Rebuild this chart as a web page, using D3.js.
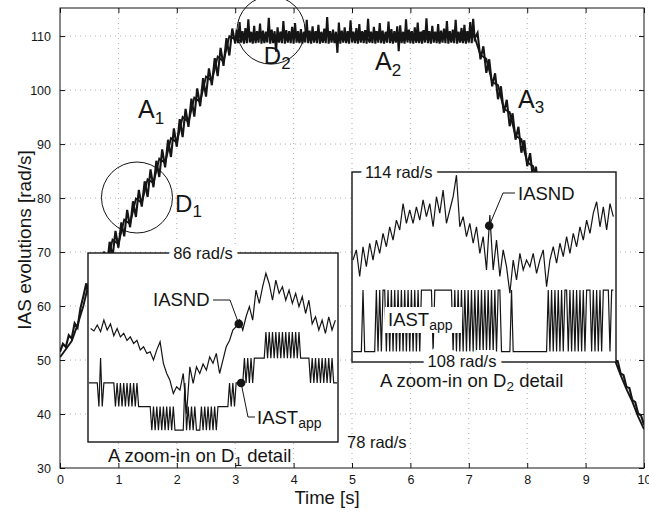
<!DOCTYPE html>
<html>
<head>
<meta charset="utf-8">
<script src="https://cdn.jsdelivr.net/npm/d3@7"></script>
<style>
  body { margin: 0; background: #fff; }
  svg { display: block; font-family: "Liberation Sans", Arial, sans-serif; }
</style>
</head>
<body>
<svg id="chart" width="649" height="513"></svg>
<script>
// ---- data ----
var xTicks = [0, 1, 2, 3, 4, 5, 6, 7, 8, 9, 10];
var yTicks = [30, 40, 50, 60, 70, 80, 90, 100, 110];

// main IASND trace: start + ramp up every 0.05 s (0..3 s)
var iasStart = [51.5, 53.0, 52.4, 54.6, 54.0, 56.8, 56.0, 59.6, 61.8];
var iasRampUp = [64.2, 61.6, 66.3, 63.5, 68.0, 65.2, 70.1, 67.0, 71.9, 69.1, 73.9, 70.8, 75.5, 72.9, 77.8, 74.6,
  79.4, 76.5, 81.5, 78.4, 83.1, 80.2, 85.3, 82.0, 86.9, 83.9, 89.0, 85.7, 90.8, 87.6, 92.9, 89.5, 94.6, 91.3,
  96.5, 93.2, 98.4, 95.1, 100.3, 97.0, 102.2, 98.8, 104.0, 100.9, 105.9, 102.6, 107.8, 104.5, 109.6, 106.4,
  111.4, 108.6];
// plateau every 0.025 s (3.025..7.1 s)
var iasPlateau = [
  111.2, 108.7, 112.6, 108.8, 110.9, 108.6, 111.5, 108.7, 113.1, 108.8, 110.8, 108.6, 111.9, 108.7, 110.9, 108.8, 112.3, 108.6, 111.0, 108.7,
  110.8, 108.8, 113.4, 108.6, 111.2, 108.7, 110.9, 107.1, 111.6, 108.8, 110.8, 108.7, 112.8, 108.6, 111.1, 108.8, 110.9, 108.7, 111.7, 108.6,
  112.4, 108.8, 110.9, 108.7, 111.3, 108.6, 110.8, 108.8, 113.0, 108.7, 111.0, 108.6, 111.8, 108.8, 110.9, 108.7, 112.1, 108.6, 110.8, 108.8,
  111.4, 108.7, 113.5, 108.6, 110.9, 108.8, 111.2, 108.7, 110.8, 106.9, 112.5, 108.6, 111.0, 108.8, 111.6, 108.7, 110.9, 108.6, 112.9, 108.8,
  110.8, 108.7, 111.5, 108.6, 112.2, 108.8, 110.9, 108.7, 111.1, 108.6, 113.2, 108.8, 110.8, 108.7, 111.7, 108.6, 110.9, 108.8, 112.4, 108.7,
  111.0, 108.6, 110.8, 108.8, 112.7, 108.7, 111.3, 108.6, 110.9, 108.8, 111.8, 107.2, 112.0, 108.7, 110.8, 108.6, 113.1, 108.8, 111.2, 108.7,
  110.9, 108.6, 111.6, 108.8, 112.5, 108.7, 110.8, 108.6, 111.1, 108.8, 113.3, 108.7, 110.9, 108.6, 111.9, 108.8, 110.8, 108.7, 112.2, 108.6,
  111.0, 108.8, 111.4, 108.7, 112.8, 108.6, 110.9, 108.8, 111.2, 108.7, 113.0, 108.6, 110.8, 108.8, 111.5, 108.7, 112.1, 108.6, 110.9, 108.8,
  112.6, 108.7, 113.2, 109.5];
// ramp down every 0.05 s (7.15..10 s)
var iasRampDown = [110.6, 105.7, 108.1, 103.2, 105.7, 100.7, 103.1, 98.3, 100.7, 95.8, 98.2, 93.3, 95.7, 90.8,
  93.2, 88.4, 90.7, 85.9, 88.3, 83.4, 85.8, 80.9, 83.3, 78.4, 80.8, 76.0, 78.3, 73.5, 75.8, 71.0, 73.3, 68.6,
  70.8, 66.1, 68.3, 63.6, 65.8, 61.2, 63.3, 58.8, 60.6, 56.7, 57.8, 54.6, 55.0, 52.2, 52.5, 49.9, 49.8, 47.5,
  47.2, 45.0, 44.8, 42.6, 42.2, 40.1, 39.7, 38.0];

// main IASTapp trace, one value every 0.1 s from 0 to 10 s
var tappMain = [50.5, 52.0, 53.5, 56.5, 60.0,
  64.6, 63.9, 68.4, 67.6, 72.3, 71.5, 76.0, 75.2, 79.9, 79.1, 83.5, 82.8, 87.3, 86.5, 91.1, 90.3, 95.0, 94.1,
  98.6, 97.8, 102.5, 101.7, 106.2, 105.3, 110.0, 109.4,
  109.2, 110.6, 109.0, 110.5, 109.1, 110.7, 109.0, 110.6, 109.2, 110.5, 109.0, 110.6, 109.1, 110.7, 109.0, 110.5,
  109.2, 110.6, 109.0, 110.6, 109.1, 110.5, 109.0, 110.7, 109.2, 110.6, 109.0, 110.5, 109.1, 110.6, 109.0, 110.7,
  109.2, 110.5, 109.0, 110.6, 109.1, 110.6, 109.0, 110.5, 109.8,
  106.5, 105.8, 101.5, 100.9, 96.5, 95.9, 91.5, 90.9, 86.6, 85.9, 81.6, 80.9, 76.7, 76.0, 71.7, 71.0, 66.7,
  66.0, 61.8, 61.0, 56.8, 56.0, 51.8, 50.0, 47.2, 44.6, 42.3, 39.5, 37.2];

// zoom D1 (78..86 rad/s): IASND every 10 ms, IASTapp level index every 5 ms
var d1Nd = [82.8, 82.7, 82.95, 82.67, 83.16, 82.74, 83.0, 82.5, 82.8, 82.45, 82.6, 82.3, 82.45, 82.17, 82.3, 81.9,
  82.03, 81.75, 81.82, 81.47, 81.9, 82.24, 81.33, 80.9, 80.6, 80.05, 80.34, 80.2, 80.9, 79.2, 81.18, 80.48,
  81.18, 80.9, 81.3, 81.04, 81.6, 81.33, 81.75, 80.9, 81.47, 82.03, 82.3, 82.74, 82.88, 83.16, 82.74, 83.3,
  83.73, 83.16, 84.43, 83.87, 84.57, 85.14, 84.7, 84.0, 84.85, 84.29, 84.57, 84.0, 84.43, 83.87, 84.29, 83.73,
  84.15, 83.44, 84.0, 83.0, 83.3, 82.74, 83.16, 82.6, 83.3, 82.74, 83.16];
var d1Levels = [78.5, 79.5, 80.5, 81.55, 82.65];
var d1Tapp = ("222222" + "1312" + "222222" + "121212121212121" + "1111111" + "010101010101010" + "0000" +
  "02" + "010101" + "000" + "10101010101" + "111111" + "2121" + "22222" + "323232" + "3333333" +
  "434343434343434343434" + "333333" + "23232323232323" + "222").split("").map(Number);

// zoom D2 (108..114 rad/s): IASND every 10 ms, IASTapp state every 5 ms
var d2Nd = [111.22, 111.54, 110.7, 111.64, 111.01, 111.75, 111.22, 111.85, 111.43, 112.06, 111.64, 112.27, 111.85,
  112.48, 112.17, 113.0, 112.38, 112.8, 112.38, 112.9, 112.48, 113.12, 112.59, 113.0, 112.27, 113.22, 112.7,
  113.43, 112.38, 112.8, 113.22, 113.9, 112.27, 112.59, 111.96, 112.38, 111.75, 112.27, 111.43, 111.96, 110.91,
  112.64, 110.91, 111.85, 110.7, 111.54, 111.01, 110.17, 111.22, 110.59, 111.43, 110.91, 111.22, 111.01, 111.43,
  110.8, 111.22, 111.54, 110.38, 111.22, 111.64, 111.12, 111.75, 111.33, 111.96, 111.43, 112.06, 111.64, 112.27,
  111.85, 112.48, 112.06, 112.7, 113.06, 112.27, 112.9, 112.17, 113.0, 112.59];
var d2Levels = [108.33, 110.27];
var d2Tapp = ("000000" + "1" + "0000000" + "10101" + "1010101010101010101010" + "1111111011" + "1111111110" +
  "10101010101010101010101010" + "11" + "000000" + "1" + "000000000000000000000" +
  "1010101010110101010101011101010101111011").split("").map(Number);

// ---- drawing ----
var svg = d3.select("#chart");
var ink = "#151515";

var x = d3.scaleLinear().domain([0, 10]).range([60, 644]);
var y = d3.scaleLinear().domain([30, 115.2]).range([468, 8]);

var mainNd = [];
iasStart.concat(iasRampUp).forEach((v, i) => mainNd.push({ t: i * 0.05, v: v }));
iasPlateau.forEach((v, j) => mainNd.push({ t: 3.0 + 0.025 * (j + 1), v: v }));
iasRampDown.forEach((v, j) => mainNd.push({ t: 7.1 + 0.05 * (j + 1), v: v }));
var mainTapp = tappMain.map((v, i) => ({ t: i * 0.1, v: v }));

svg.append("clipPath").attr("id", "plotClip")
  .append("rect").attr("x", 60).attr("y", 8).attr("width", 584).attr("height", 460);

// grid
var grid = svg.append("g").attr("stroke", "#999").attr("stroke-width", 0.8).attr("stroke-dasharray", "1,4");
grid.selectAll(".gx").data(xTicks.slice(1, -1)).enter().append("line")
  .attr("x1", d => x(d)).attr("x2", d => x(d)).attr("y1", y(115.2)).attr("y2", y(30));
grid.selectAll(".gy").data(yTicks.slice(1)).enter().append("line")
  .attr("x1", x(0)).attr("x2", x(10)).attr("y1", d => y(d)).attr("y2", d => y(d));

// traces
var line = d3.line().x(d => x(d.t)).y(d => y(d.v));
var traces = svg.append("g").attr("clip-path", "url(#plotClip)");
traces.append("path").datum(mainTapp).attr("d", line)
  .attr("fill", "none").attr("stroke", ink).attr("stroke-width", 1.9);
traces.append("path").datum(mainNd).attr("d", line)
  .attr("fill", "none").attr("stroke", ink).attr("stroke-width", 2.1);

// axes
var xAxis = d3.axisBottom(x).tickValues(xTicks).tickSizeInner(-5).tickSizeOuter(0).tickPadding(7);
var yAxis = d3.axisLeft(y).tickValues(yTicks).tickSizeInner(-5).tickSizeOuter(0).tickPadding(9);
var gx = svg.append("g").attr("transform", "translate(0," + y(30) + ")").call(xAxis);
var gy = svg.append("g").attr("transform", "translate(" + x(0) + ",0)").call(yAxis);
svg.append("g").attr("transform", "translate(0," + y(115.2) + ")")
  .call(d3.axisTop(x).tickValues(xTicks).tickSize(-5).tickFormat(""));
svg.append("g").attr("transform", "translate(" + x(10) + ",0)")
  .call(d3.axisRight(y).tickValues(yTicks).tickSize(-5).tickFormat(""));
svg.selectAll(".domain").remove();
svg.selectAll(".tick line").attr("stroke", ink);
[gx, gy].forEach(g => g.selectAll("text").attr("font-size", 12.5).attr("fill", ink)
  .attr("font-family", "Liberation Sans, Arial, sans-serif"));
svg.append("rect").attr("x", x(0)).attr("y", y(115.2)).attr("width", x(10) - x(0)).attr("height", y(30) - y(115.2))
  .attr("fill", "none").attr("stroke", ink).attr("stroke-width", 1);

svg.append("text").attr("x", 327).attr("y", 504).attr("text-anchor", "middle")
  .attr("font-size", 18.5).attr("fill", ink).text("Time [s]");
svg.append("text").attr("transform", "translate(31,240) rotate(-90)").attr("text-anchor", "middle")
  .attr("font-size", 19).attr("fill", ink).text("IAS evolutions [rad/s]");

function subText(g, px, py, main, sub, size, subSize, after) {
  var t = g.append("text").attr("x", px).attr("y", py).attr("font-size", size).attr("fill", ink);
  t.append("tspan").text(main);
  t.append("tspan").attr("font-size", subSize).attr("dy", size * 0.22).text(sub);
  if (after) t.append("tspan").attr("dy", -size * 0.22).text(after);
  return t;
}

// annotations on the main plot
var ann = svg.append("g");
ann.append("circle").attr("cx", x(1.318)).attr("cy", y(80.1)).attr("r", 35.5)
  .attr("fill", "none").attr("stroke", ink).attr("stroke-width", 1);
ann.append("circle").attr("cx", x(3.613)).attr("cy", y(111.1)).attr("r", 34)
  .attr("fill", "none").attr("stroke", ink).attr("stroke-width", 1);
subText(ann, x(1.336), y(94.8), "A", "1", 25, 17);
subText(ann, x(1.97), y(77.4), "D", "1", 24, 17);
subText(ann, x(3.49), y(104.8), "D", "2", 24, 17);
subText(ann, x(5.394), y(103.7), "A", "2", 25, 17);
subText(ann, x(7.842), y(96.7), "A", "3", 25, 17);

// ---- inset helper ----
function inset(box, xDom, yDom) {
  var g = svg.append("g");
  g.append("rect").attr("x", box.x0).attr("y", box.y0)
    .attr("width", box.x1 - box.x0).attr("height", box.y1 - box.y0)
    .attr("fill", "#fff").attr("stroke", ink).attr("stroke-width", 1.4);
  var sx = d3.scaleLinear().domain(xDom).range([box.x0 + 1, box.x1 - 1]);
  var sy = d3.scaleLinear().domain(yDom).range([box.y1, box.y0]);
  return { g: g, sx: sx, sy: sy };
}
function borderLabel(g, px, py, txt, anchor) {
  g.append("text").attr("x", px).attr("y", py).attr("text-anchor", anchor || "middle")
    .attr("dominant-baseline", "central").attr("font-size", 16.5).attr("fill", ink)
    .attr("stroke", "#fff").attr("stroke-width", 10).attr("paint-order", "stroke").text(txt);
}

// inset D1
var i1 = inset({ x0: 88, y0: 253, x1: 338, y1: 442 }, [0, 750], [78, 86]);
var l1 = d3.line().x(d => i1.sx(d.t)).y(d => i1.sy(d.v));
i1.g.append("path").datum(d1Tapp.map((k, i) => ({ t: i * 5, v: d1Levels[k] }))).attr("d", l1)
  .attr("fill", "none").attr("stroke", ink).attr("stroke-width", 1.2);
i1.g.append("path").datum(d1Nd.map((v, i) => ({ t: 5 + i * 10, v: v }))).attr("d", l1)
  .attr("fill", "none").attr("stroke", ink).attr("stroke-width", 1.2);
borderLabel(i1.g, 203, 253, "86 rad/s");
i1.g.append("text").attr("x", 347).attr("y", 442).attr("dominant-baseline", "central")
  .attr("font-size", 16.5).attr("fill", ink).text("78 rad/s");
subText(i1.g, 108, 462, "A zoom-in on D", "1", 18.5, 13.5, " detail");
// IASND marker
i1.g.append("circle").attr("cx", i1.sx(453)).attr("cy", i1.sy(83.0)).attr("r", 4.3).attr("fill", ink);
i1.g.append("polyline").attr("points", "213,300 230,300 " + i1.sx(453) + "," + i1.sy(83.0))
  .attr("fill", "none").attr("stroke", ink).attr("stroke-width", 1);
i1.g.append("text").attr("x", 153).attr("y", 306).attr("font-size", 18.5).attr("fill", ink).text("IASND");
// IASTapp marker
i1.g.append("circle").attr("cx", i1.sx(460)).attr("cy", i1.sy(80.5)).attr("r", 4.3).attr("fill", ink);
i1.g.append("polyline").attr("points", i1.sx(460) + "," + i1.sy(80.5) + " 248,417 255,417")
  .attr("fill", "none").attr("stroke", ink).attr("stroke-width", 1);
subText(i1.g, 257, 424, "IAST", "app", 18.5, 14);

// inset D2
var i2 = inset({ x0: 352, y0: 172, x1: 616, y1: 362 }, [0, 785], [108, 114]);
var l2 = d3.line().x(d => i2.sx(d.t)).y(d => i2.sy(d.v));
i2.g.append("path").datum(d2Tapp.map((k, i) => ({ t: i * 5, v: d2Levels[k] }))).attr("d", l2)
  .attr("fill", "none").attr("stroke", ink).attr("stroke-width", 1.2);
i2.g.append("path").datum(d2Nd.map((v, i) => ({ t: i * 10, v: v }))).attr("d", l2)
  .attr("fill", "none").attr("stroke", ink).attr("stroke-width", 1.2);
borderLabel(i2.g, 365, 172, "114 rad/s", "start");
borderLabel(i2.g, 462, 361, "108 rad/s");
subText(i2.g, 380, 387, "A zoom-in on D", "2", 18.5, 13.5, " detail");
// IASND marker
i2.g.append("circle").attr("cx", i2.sx(408)).attr("cy", i2.sy(112.3)).attr("r", 4.3).attr("fill", ink);
i2.g.append("polyline").attr("points", i2.sx(408) + "," + i2.sy(112.3) + " 503,193 515,193")
  .attr("fill", "none").attr("stroke", ink).attr("stroke-width", 1);
i2.g.append("text").attr("x", 518).attr("y", 200).attr("font-size", 18.5).attr("fill", ink).text("IASND");
// IASTapp label on a white patch
i2.g.append("rect").attr("x", 385).attr("y", 307).attr("width", 77).attr("height", 26).attr("fill", "#fff");
subText(i2.g, 388, 326, "IAST", "app", 18.5, 14);
</script>
</body>
</html>
